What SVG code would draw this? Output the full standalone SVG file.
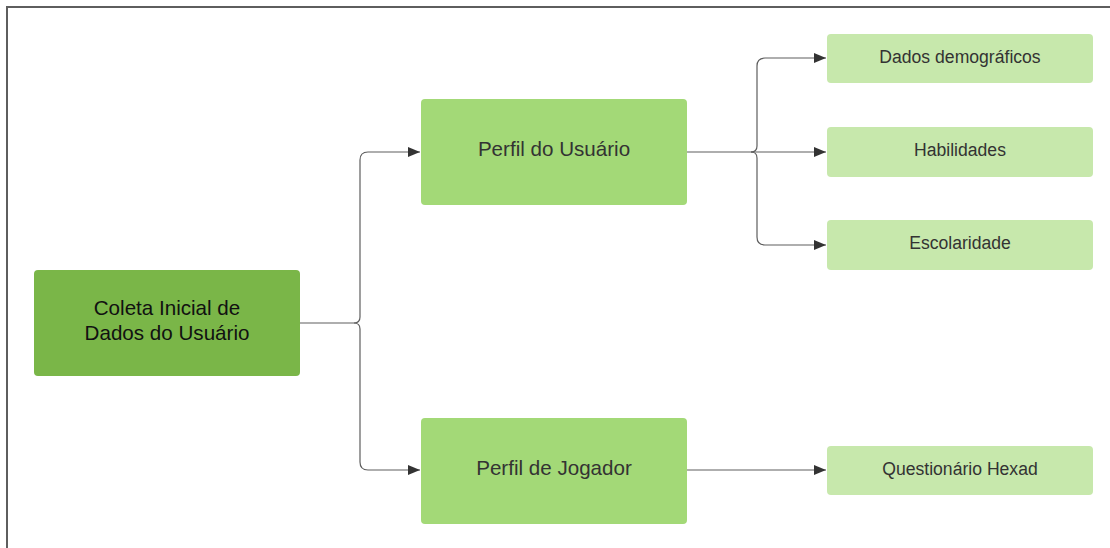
<svg xmlns="http://www.w3.org/2000/svg" width="1110" height="548" viewBox="0 0 1110 548">
<defs>
<style>
.frame{fill:none;stroke:#5e5e5e;stroke-width:2}
.c{fill:none;stroke:#5e5e5e;stroke-width:1.2}
.main{fill:#7ab648}
.mid{fill:#a3d977}
.leaf{fill:#c7e8ac}
.t{font-family:"Liberation Sans",Arial,sans-serif;text-anchor:middle;dominant-baseline:central}
.tm{font-size:20.6px;fill:#111}
.tp{font-size:20.6px;fill:#333}
.tl{font-size:17.6px;fill:#333}
</style>
<marker id="ah" markerWidth="12" markerHeight="10" refX="12" refY="5" orient="auto" markerUnits="userSpaceOnUse">
<path d="M0,0 L12,5 L0,10 Z" fill="#333"/>
</marker>
</defs>
<rect width="1110" height="548" fill="#fff"/>
<path class="frame" d="M7,548 V7 H1110"/>
<g id="connectors">
<path class="c" d="M300,323 H354 Q360,323 360,317 V160 Q360,152 368,152 H420" marker-end="url(#ah)"/>
<path class="c" d="M354,323 Q360,323 360,329 V462 Q360,470 368,470 H420" marker-end="url(#ah)"/>
<path class="c" d="M687,152 H751 Q757,152 757,146 V66 Q757,58 765,58 H826" marker-end="url(#ah)"/>
<path class="c" d="M751,152 H826" marker-end="url(#ah)"/>
<path class="c" d="M751,152 Q757,152 757,158 V237 Q757,245 765,245 H826" marker-end="url(#ah)"/>
<path class="c" d="M687,470 H826" marker-end="url(#ah)"/>
</g>
<g id="coleta">
<rect class="main" x="34" y="270" width="266" height="106" rx="4"/>
<text class="t tm" x="167" y="307">Coleta Inicial de</text>
<text class="t tm" x="167" y="332">Dados do Usuário</text>
</g>
<g id="perfil-usuario">
<rect class="mid" x="421" y="99" width="266" height="106" rx="4"/>
<text class="t tp" x="554" y="148">Perfil do Usuário</text>
</g>
<g id="perfil-jogador">
<rect class="mid" x="421" y="418" width="266" height="106" rx="4"/>
<text class="t tp" x="554" y="467">Perfil de Jogador</text>
</g>
<g id="dados-demograficos">
<rect class="leaf" x="827" y="34" width="266" height="49" rx="4"/>
<text class="t tl" x="960" y="57">Dados demográficos</text>
</g>
<g id="habilidades">
<rect class="leaf" x="827" y="127" width="266" height="50" rx="4"/>
<text class="t tl" x="960" y="150">Habilidades</text>
</g>
<g id="escolaridade">
<rect class="leaf" x="827" y="220" width="266" height="50" rx="4"/>
<text class="t tl" x="960" y="243">Escolaridade</text>
</g>
<g id="questionario-hexad">
<rect class="leaf" x="827" y="446" width="266" height="49" rx="4"/>
<text class="t tl" x="960" y="469">Questionário Hexad</text>
</g>
</svg>
